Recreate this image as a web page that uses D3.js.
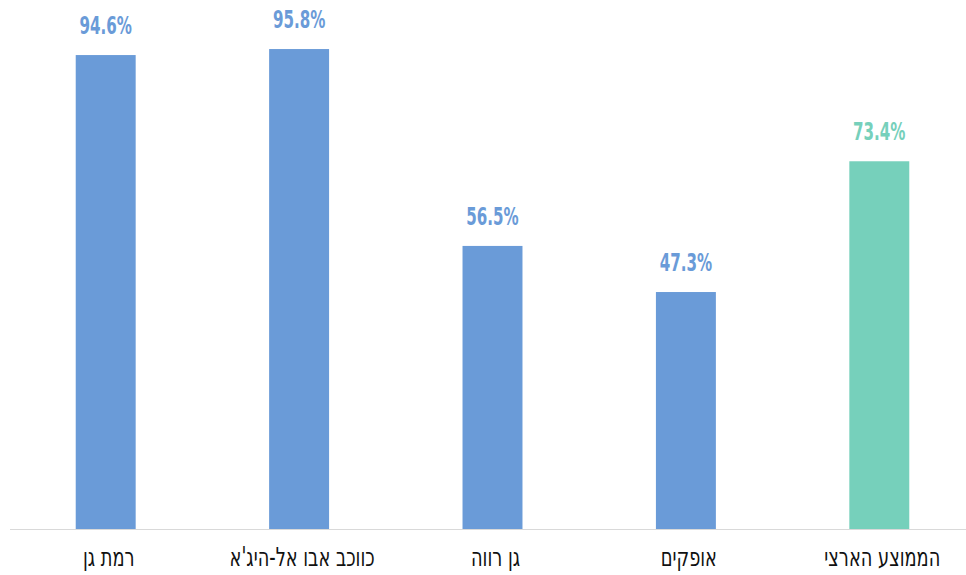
<!DOCTYPE html>
<html>
<head>
<meta charset="utf-8">
<script src="https://cdn.jsdelivr.net/npm/d3@7"></script>
<style>
  body { margin: 0; background: #fff; }
  text { font-family: "DejaVu Sans Condensed", "DejaVu Sans", sans-serif; }
</style>
</head>
<body>
<div id="chart"></div>
<script>
let categories = ['רמת גן', 'כווכב אבו אל-היג\'א', 'גן רווה', 'אופקים', 'הממוצע הארצי'];
let values = [94.6, 95.8, 56.5, 47.3, 73.4];
let valueLabels = ['94.6%', '95.8%', '56.5%', '47.3%', '73.4%'];
let highlight = ['הממוצע הארצי'];

let width = 966,
    height = 575;

let svg = d3.select('#chart').append('svg')
    .attr('width', width)
    .attr('height', height);

let x = d3.scaleBand()
    .domain(categories)
    .range([9, 976])
    .paddingInner(0.69)
    .paddingOuter(0.345);

let y = d3.scaleLinear()
    .domain([0, 100])
    .range([529, 28]);

let color = d => highlight.indexOf(d) !== -1 ? '#76d0bb' : '#6a9bd8';

// baseline
svg.append('line')
    .attr('x1', 10)
    .attr('x2', width)
    .attr('y1', y(0) + 0.5)
    .attr('y2', y(0) + 0.5)
    .attr('stroke', '#d9d9d9')
    .attr('stroke-width', 1);

let data = categories.map((c, i) => ({cat: c, value: values[i], label: valueLabels[i]}));

svg.append('g').selectAll('rect')
    .data(data)
    .join('rect')
    .attr('x', d => x(d.cat))
    .attr('width', x.bandwidth())
    .attr('y', d => y(d.value))
    .attr('height', d => y(0) - y(d.value))
    .attr('fill', d => color(d.cat));

// value labels, squeezed to look condensed
svg.append('g').selectAll('text')
    .data(data)
    .join('text')
    .attr('transform', d => `translate(${x(d.cat) + x.bandwidth() / 2}, ${y(d.value) - 21}) scale(0.7, 1)`)
    .attr('text-anchor', 'middle')
    .style('font-size', '24px')
    .style('font-weight', 'bold')
    .attr('fill', d => color(d.cat))
    .text(d => d.label);

svg.append('g').selectAll('text')
    .data(data)
    .join('text')
    .attr('transform', d => `translate(${x(d.cat) + x.bandwidth() / 2 + 3}, 566) scale(0.76, 1)`)
    .attr('text-anchor', 'middle')
    .attr('direction', 'rtl')
    .style('font-size', '26px')
    .attr('fill', '#111')
    .text(d => d.cat);
</script>
</body>
</html>
